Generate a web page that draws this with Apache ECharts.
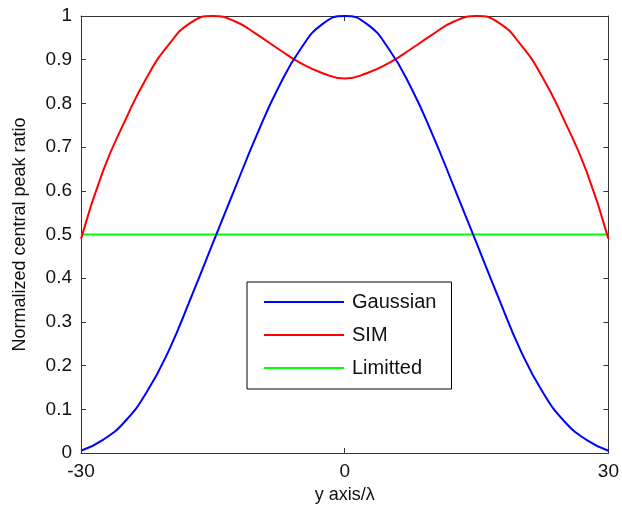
<!DOCTYPE html>
<html>
<head>
<meta charset="utf-8">
<script src="https://cdn.jsdelivr.net/npm/echarts@6/dist/echarts.min.js"></script>
<style>
  html, body { margin: 0; padding: 0; background: #fff; }
  #chart { width: 622px; height: 514px; }
</style>
</head>
<body>
<div id="chart"></div>
<script>
// y axis positions (in lambda)
const yPos = [-30, -27.5, -25, -22.5, -20, -17.5, -15, -12.5, -10, -7.5, -5, -2.5, 0,
  2.5, 5, 7.5, 10, 12.5, 15, 17.5, 20, 22.5, 25, 27.5, 30]
const gaussian = [0.005, 0.03, 0.072, 0.14, 0.235, 0.355, 0.48, 0.605, 0.728, 0.838, 0.925, 0.982, 1.0,
  0.982, 0.925, 0.838, 0.728, 0.605, 0.48, 0.355, 0.235, 0.14, 0.072, 0.03, 0.005]
const sim = [0.49, 0.645, 0.76, 0.86, 0.935, 0.985, 1.0, 0.988, 0.958, 0.924, 0.892, 0.869, 0.857,
  0.869, 0.892, 0.924, 0.958, 0.988, 1.0, 0.985, 0.935, 0.86, 0.76, 0.645, 0.49]
const limitted = [0.5, 0.5, 0.5, 0.5, 0.5, 0.5, 0.5, 0.5, 0.5, 0.5, 0.5, 0.5, 0.5,
  0.5, 0.5, 0.5, 0.5, 0.5, 0.5, 0.5, 0.5, 0.5, 0.5, 0.5, 0.5]
const seriesNames = ['Gaussian', 'SIM', 'Limitted']
const seriesColors = ['#0000ff', '#ff0000', '#00ff00']
const xTicks = [-30, 0, 30]

const font = "'Liberation Sans', Arial, sans-serif"
const chart = echarts.init(document.getElementById('chart'), null, { renderer: 'canvas' })

const pairs = (vals) => yPos.map((x, i) => [x, vals[i]])

const frameAxis = {
  axisLine: { show: true, onZero: false, lineStyle: { color: '#333', width: 1 } },
  axisTick: { show: true, inside: true, length: 5, lineStyle: { color: '#333' } },
  splitLine: { show: false },
}

const option = {
  backgroundColor: '#fff',
  animation: false,
  textStyle: { fontFamily: font },
  grid: { left: 81, top: 16, right: 13, bottom: 61 },
  legend: {
    data: seriesNames,
    orient: 'vertical',
    left: 247,
    top: 282,
    padding: [10, 15, 11, 16],
    itemGap: 13,
    itemWidth: 80,
    itemHeight: 14,
    borderColor: '#000',
    borderWidth: 1,
    backgroundColor: '#fff',
    itemStyle: { opacity: 0 }, // line only, no marker
    textStyle: { fontSize: 20, color: '#111', fontFamily: font, padding: [0, 0, 0, 3] },
  },
  xAxis: [
    {
      type: 'value', min: -30, max: 30, interval: 30,
      position: 'bottom',
      name: 'y axis/λ', nameLocation: 'middle', nameGap: 31,
      nameTextStyle: { fontSize: 18, color: '#111', fontFamily: font },
      axisLabel: { fontSize: 19, color: '#111', margin: 9, fontFamily: font,
        formatter: (v) => xTicks.includes(v) ? String(v) : '' },
      ...frameAxis,
    },
    {
      type: 'value', min: -30, max: 30, interval: 30,
      position: 'top',
      axisLabel: { show: false },
      ...frameAxis,
    },
  ],
  yAxis: [
    {
      type: 'value', min: 0, max: 1, interval: 0.1,
      position: 'left',
      name: 'Normalized central peak ratio', nameLocation: 'middle', nameGap: 52,
      nameTextStyle: { fontSize: 18, color: '#111', fontFamily: font },
      axisLabel: { fontSize: 19, color: '#111', margin: 9, fontFamily: font },
      ...frameAxis,
    },
    {
      type: 'value', min: 0, max: 1, interval: 0.1,
      position: 'right',
      axisLabel: { show: false },
      ...frameAxis,
    },
  ],
  series: [gaussian, sim, limitted].map((vals, i) => ({
    name: seriesNames[i],
    type: 'line',
    data: pairs(vals),
    smooth: 0.5,
    symbol: 'none',
    showSymbol: false,
    color: seriesColors[i],
    lineStyle: { color: seriesColors[i], width: 2 },
    z: 3 - i,
  })),
}

chart.setOption(option)
</script>
</body>
</html>
